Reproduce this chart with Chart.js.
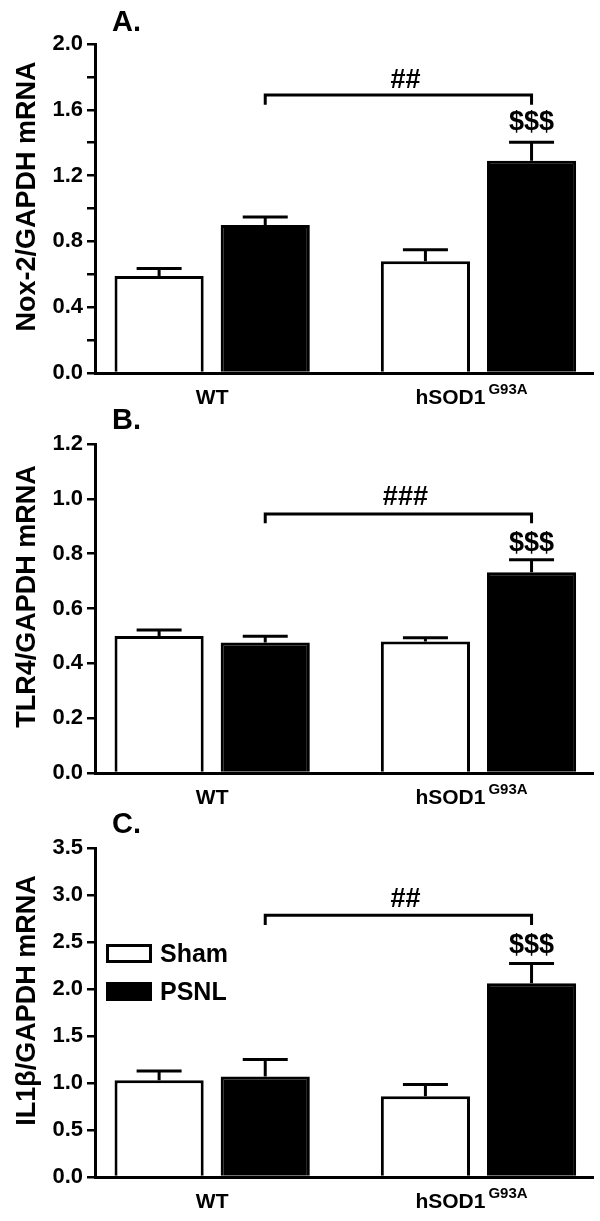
<!DOCTYPE html>
<html><head><meta charset="utf-8">
<script src="https://cdn.jsdelivr.net/npm/chart.js@4"></script>
<style>
html,body{margin:0;padding:0;background:#fff;}
#wrap{position:relative;width:600px;height:1221px;overflow:hidden;background:#fff;}
canvas{position:absolute;left:0;}
</style></head><body>
<div id="wrap">
<canvas id="cA" width="600" height="405" style="top:0px"></canvas>
<canvas id="cB" width="600" height="404" style="top:400px"></canvas>
<canvas id="cC" width="600" height="417" style="top:804px"></canvas>
</div>
<script>
// ---- data ----
const categories = ['WT', 'hSOD1'];
const categorySup = ['', 'G93A'];
const seriesNames = ['Sham', 'PSNL'];

// Panel A: Nox-2
const shamA = [0.59, 0.68];
const psnlA = [0.90, 1.29];
const shamErrA = [0.045, 0.07];
const psnlErrA = [0.048, 0.113];
const yTicksA = [0.0, 0.4, 0.8, 1.2, 1.6, 2.0];
const yMinorA = 0.1;

// Panel B: TLR4
const shamB = [0.50, 0.48];
const psnlB = [0.476, 0.732];
const shamErrB = [0.022, 0.013];
const psnlErrB = [0.023, 0.046];
const yTicksB = [0.0, 0.2, 0.4, 0.6, 0.8, 1.0, 1.2];
const yMinorB = 0.1;

// Panel C: IL1beta
const shamC = [1.03, 0.86];
const psnlC = [1.07, 2.06];
const shamErrC = [0.098, 0.123];
const psnlErrC = [0.18, 0.21];
const yTicksC = [0.0, 0.5, 1.0, 1.5, 2.0, 2.5, 3.0, 3.5];
const yMinorC = 0.25;

// significance marks (values in y units)
const sigA = { bracket: 1.69, leg: 1.63, hashText: '##', hashY: 1.78, dollarText: '$$$', dollarY: 1.52 };
const sigB = { bracket: 0.945, leg: 0.911, hashText: '###', hashY: 1.006, dollarText: '$$$', dollarY: 0.838 };
const sigC = { bracket: 2.785, leg: 2.68, hashText: '##', hashY: 2.953, dollarText: '$$$', dollarY: 2.462 };

const FONT = '"Liberation Sans", Arial, Helvetica, sans-serif';

const extras = {
  id: 'extras',
  afterDatasetsDraw(chart, args, o) {
    const ctx = chart.ctx, ys = chart.scales.y;
    ctx.save();
    ctx.strokeStyle = '#000'; ctx.fillStyle = '#000';
    ctx.lineWidth = 3; ctx.lineCap = 'butt'; ctx.lineJoin = 'miter';
    // error bars (upper only)
    chart.data.datasets.forEach((ds, di) => {
      const meta = chart.getDatasetMeta(di);
      meta.data.forEach((bar, i) => {
        const v = ds.data[i].y, e = o.errors[di][i];
        const yTop = ys.getPixelForValue(v + e), yB = ys.getPixelForValue(v);
        ctx.beginPath();
        ctx.moveTo(bar.x, yB); ctx.lineTo(bar.x, yTop);
        ctx.moveTo(bar.x - 22.5, yTop); ctx.lineTo(bar.x + 22.5, yTop);
        ctx.stroke();
      });
    });
    // bracket between PSNL bars
    const pm = chart.getDatasetMeta(1).data;
    const x0 = pm[0].x, x1 = pm[1].x, s = o.sig;
    const yH = ys.getPixelForValue(s.bracket), yL = ys.getPixelForValue(s.leg);
    ctx.beginPath();
    ctx.moveTo(x0, yL); ctx.lineTo(x0, yH); ctx.lineTo(x1, yH); ctx.lineTo(x1, yL);
    ctx.stroke();
    ctx.font = 'bold 27px ' + FONT;
    ctx.textAlign = 'center'; ctx.textBaseline = 'middle';
    ctx.fillText(s.hashText, (x0 + x1) / 2 + 7, ys.getPixelForValue(s.hashY));
    ctx.fillText(s.dollarText, x1, ys.getPixelForValue(s.dollarY));
    ctx.restore();
  },
  afterDraw(chart, args, o) {
    const ctx = chart.ctx, xs = chart.scales.x, ca = chart.chartArea;
    ctx.save();
    ctx.fillStyle = '#000'; ctx.strokeStyle = '#000';
    // panel letter
    ctx.font = 'bold 29px ' + FONT;
    ctx.textAlign = 'left'; ctx.textBaseline = 'middle';
    ctx.fillText(o.letter, 112, o.letterY);
    // y title
    ctx.save();
    ctx.translate(28, (ca.top + ca.bottom) / 2 - 12);
    ctx.rotate(-Math.PI / 2);
    ctx.font = 'bold 27px ' + FONT;
    ctx.textAlign = 'center'; ctx.textBaseline = 'middle';
    ctx.fillText(o.yTitle, 0, 0);
    ctx.restore();
    // x category labels with superscript
    const base = ca.bottom + 31;
    categories.forEach((c, i) => {
      const px = xs.getPixelForValue(i);
      ctx.font = 'bold 21px ' + FONT;
      const w1 = ctx.measureText(c).width;
      let w2 = 0;
      if (categorySup[i]) { ctx.font = 'bold 15px ' + FONT; w2 = ctx.measureText(categorySup[i]).width + 3; }
      const shift = categorySup[i] ? -7 : 0;
      const left = px - (w1 + w2) / 2 + shift;
      ctx.textAlign = 'left'; ctx.textBaseline = 'alphabetic';
      ctx.font = 'bold 21px ' + FONT;
      ctx.fillText(c, left, base);
      if (categorySup[i]) {
        ctx.font = 'bold 15px ' + FONT;
        ctx.fillText(categorySup[i], left + w1 + 3, base - 10);
      }
    });
    // legend
    if (o.legend) {
      ctx.lineWidth = 3;
      const rows = [150, 188];
      chart.data.datasets.forEach((ds, di) => {
        const cy = rows[di];
        ctx.fillStyle = ds.backgroundColor;
        ctx.fillRect(107.5, cy - 8.5, 43, 16);
        ctx.strokeStyle = '#000';
        ctx.strokeRect(107.5, cy - 8.5, 43, 16);
        ctx.fillStyle = '#000';
        ctx.font = 'bold 25px ' + FONT;
        ctx.textAlign = 'left'; ctx.textBaseline = 'middle';
        ctx.fillText(ds.label, 160, cy + 1);
      });
    }
    ctx.restore();
  }
};

function buildTicks(majors, minor) {
  const max = majors[majors.length - 1];
  const n = Math.round(max / minor);
  const out = [];
  for (let k = 0; k <= n; k++) out.push({ value: Math.round(k * minor * 1000) / 1000 });
  return out;
}

function makeChart(id, canvasH, sham, psnl, shamErr, psnlErr, majors, minor, sig, letter, letterY, yTitle, legend) {
  const ctx = document.getElementById(id);
  return new Chart(ctx, {
    type: 'bar',
    data: {
      datasets: [
        { label: seriesNames[0], data: categories.map((c, i) => ({ x: i, y: sham[i] })),
          backgroundColor: '#ffffff', borderColor: '#000000', borderWidth: 3,
          categoryPercentage: 0.797, barPercentage: 0.84 },
        { label: seriesNames[1], data: categories.map((c, i) => ({ x: i, y: psnl[i] })),
          backgroundColor: '#000000', borderColor: '#000000', borderWidth: 3,
          categoryPercentage: 0.797, barPercentage: 0.84 }
      ]
    },
    options: {
      responsive: false, animation: false, devicePixelRatio: 1,
      layout: { padding: { top: 44, right: 7, left: 0, bottom: 0 } },
      plugins: {
        legend: { display: false }, tooltip: { enabled: false }, title: { display: false },
        extras: { errors: [shamErr, psnlErr], sig, letter, letterY, yTitle, legend }
      },
      scales: {
        x: {
          type: 'linear', min: -0.44, max: 1.43, offset: false,
          afterBuildTicks: (s) => { s.ticks = categories.map((c, i) => ({ value: i })); },
          afterFit: (s) => { s.height = canvasH - 373; },
          ticks: { display: false },
          grid: { display: false },
          border: { display: true, color: '#000', width: 3 }
        },
        y: {
          min: 0, max: majors[majors.length - 1],
          afterBuildTicks: (s) => { s.ticks = buildTicks(majors, minor); },
          afterFit: (s) => { s.width = 95; },
          ticks: {
            color: '#000', padding: 4,
            font: { family: FONT, size: 22, weight: 'bold' },
            callback: (v) => majors.some(m => Math.abs(m - v) < 1e-6) ? Number(v).toFixed(1) : ''
          },
          grid: { display: true, drawOnChartArea: false, drawTicks: true, tickLength: 8, color: '#000', lineWidth: 2.5 },
          border: { display: true, color: '#000', width: 3 }
        }
      }
    },
    plugins: [extras]
  });
}

makeChart('cA', 405, shamA, psnlA, shamErrA, psnlErrA, yTicksA, yMinorA, sigA, 'A.', 23, 'Nox-2/GAPDH mRNA', false);
makeChart('cB', 404, shamB, psnlB, shamErrB, psnlErrB, yTicksB, yMinorB, sigB, 'B.', 21, 'TLR4/GAPDH mRNA', false);
makeChart('cC', 417, shamC, psnlC, shamErrC, psnlErrC, yTicksC, yMinorC, sigC, 'C.', 21, 'IL1\u03B2/GAPDH mRNA', true);
</script>
</body></html>
